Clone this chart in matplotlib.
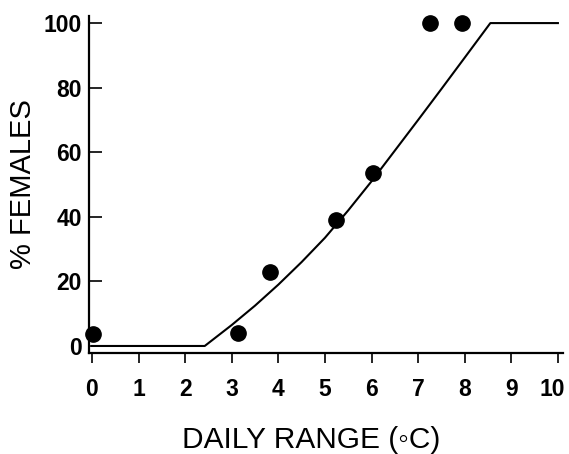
import matplotlib
matplotlib.use("Agg")
import matplotlib.pyplot as plt
import matplotlib.transforms as mtransforms

# Observed data points
range_obs = [0.02, 3.13, 3.83, 5.24, 6.04, 7.25, 7.95]
females_obs = [3.8, 4.1, 23.0, 39.0, 53.6, 100.0, 100.0]

# Fitted curve
range_fit = [0.0, 2.42, 3.0, 3.5, 4.0, 4.5, 5.0, 5.5, 6.0, 6.5, 7.0, 7.5, 8.0, 8.55, 10.0]
females_fit = [0.0, 0.0, 6.5, 12.5, 19.0, 26.0, 33.5, 42.0, 51.0, 60.5, 70.0, 79.6, 89.3, 100.0, 100.0]

xticks = list(range(0, 11))
yticks = [0, 20, 40, 60, 80, 100]

plt.rcParams['font.family'] = ['Liberation Sans', 'DejaVu Sans']

fig = plt.figure(figsize=(5.69, 4.54), dpi=100)
ax = fig.add_axes([0.1564, 0.2225, 0.8331, 0.7423])

ax.plot(range_fit, females_fit, color='black', lw=1.5, zorder=2)
ax.plot(range_obs, females_obs, 'o', color='black', ms=11, zorder=3, clip_on=False)

ax.set_xlim(-0.064, 10.11)
ax.set_ylim(-2.17, 102.2)

for s in ['top', 'right']:
    ax.spines[s].set_visible(False)
for s in ['left', 'bottom']:
    ax.spines[s].set_linewidth(1.6)

ax.set_xticks(xticks)
ax.set_yticks(yticks)
ax.tick_params(axis='y', direction='in', length=9, width=1.2, pad=5, labelsize=16.5)
ax.tick_params(axis='x', direction='out', length=7, width=1.2, pad=11, labelsize=16.5)
for lab in ax.get_xticklabels() + ax.get_yticklabels():
    lab.set_fontweight('bold')
last = ax.get_xticklabels()[-1]
last.set_transform(last.get_transform() + mtransforms.ScaledTranslation(-6 / 100, 0, fig.dpi_scale_trans))

ax.set_xlabel('DAILY RANGE (\u25e6C)', fontsize=21.5)
ax.xaxis.set_label_coords(0.468, -0.218)
ax.xaxis.label.set_va('top')
ax.set_ylabel('% FEMALES', fontsize=21, labelpad=5)

fig.savefig('out.png', dpi=100)
